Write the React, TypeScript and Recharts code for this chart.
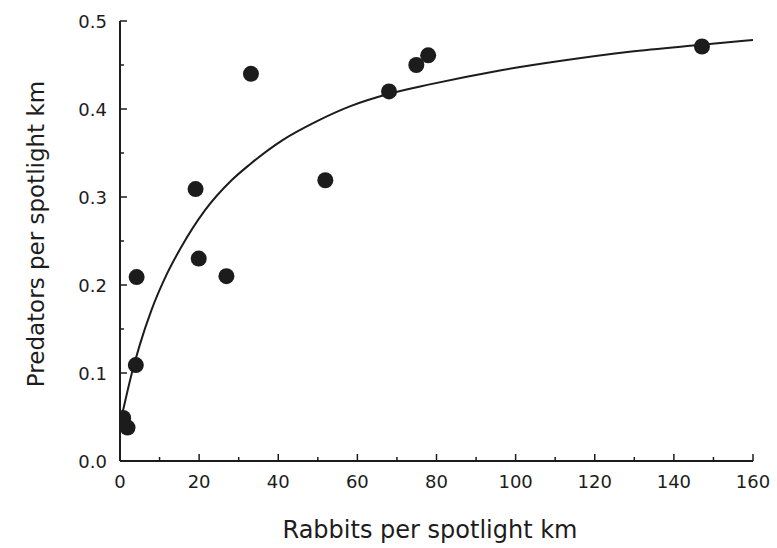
import { ComposedChart, XAxis, YAxis, Scatter, Line, Label } from "recharts";

// observed sites
const rabbits = [0.8, 1.9, 4.2, 4.0, 19.1, 19.9, 26.9, 33.1, 51.9, 68, 74.9, 77.9, 147.1];
const predators = [0.049, 0.038, 0.209, 0.109, 0.309, 0.23, 0.21, 0.44, 0.319, 0.42, 0.45, 0.461, 0.471];

// fitted curve
const fitX = [0.4, 0.8, 3, 5, 8, 11.8, 15.6, 21.5, 28.2, 32.8, 41.2, 49.7, 58.1, 67.8, 78.3, 95, 112, 128.8, 147, 160];
const fitY = [0.05, 0.058, 0.1, 0.132, 0.172, 0.212, 0.244, 0.285, 0.319, 0.337, 0.365, 0.386, 0.403, 0.417, 0.428, 0.443, 0.455, 0.465, 0.473, 0.4785];

const xTicks = [0, 10, 20, 30, 40, 50, 60, 70, 80, 90, 100, 110, 120, 130, 140, 150, 160];
const yTicks = [0, 0.05, 0.1, 0.15, 0.2, 0.25, 0.3, 0.35, 0.4, 0.45, 0.5];

const points = rabbits.map((x, i) => ({ x, y: predators[i] }));
const fit = fitX.map((x, i) => ({ x, y: fitY[i] }));

const INK = "#1c1c1c";
const FONT = "'DejaVu Sans', sans-serif";
const AXIS_X = 120;
const AXIS_Y = 461;

/* eslint-disable @typescript-eslint/no-explicit-any */
function XTick(props: any) {
  const { x, payload } = props;
  const major = payload.value % 20 === 0;
  return (
    <g>
      <line x1={x} x2={x} y1={AXIS_Y} y2={AXIS_Y - (major ? 7 : 4)} stroke={INK} strokeWidth={1.5} />
      {major && (
        <text x={x} y={AXIS_Y + 20} textAnchor="middle" dominantBaseline="central" fontSize={18} fontFamily={FONT} fill={INK}>
          {payload.value}
        </text>
      )}
    </g>
  );
}

function YTick(props: any) {
  const { y, payload } = props;
  const major = Math.round(payload.value * 100) % 10 === 0;
  return (
    <g>
      <line x1={AXIS_X} x2={AXIS_X + (major ? 7 : 4)} y1={y} y2={y} stroke={INK} strokeWidth={1.5} />
      {major && (
        <text x={AXIS_X - 13} y={y} textAnchor="end" dominantBaseline="central" fontSize={18} fontFamily={FONT} fill={INK}>
          {payload.value.toFixed(1)}
        </text>
      )}
    </g>
  );
}

function Dot(props: any) {
  return <circle cx={props.cx} cy={props.cy} r={8} fill={INK} />;
}
/* eslint-enable @typescript-eslint/no-explicit-any */

export default function App() {
  return (
    <div style={{ position: "absolute", left: 0, top: 0, width: 777, height: 548, background: "#fff" }}>
      <ComposedChart width={777} height={548} margin={{ top: 21, right: 24, left: 0, bottom: 0 }}>
        <XAxis
          type="number"
          dataKey="x"
          domain={[0, 160]}
          ticks={xTicks}
          interval={0}
          height={87}
          tickLine={false}
          axisLine={{ stroke: INK, strokeWidth: 2 }}
          tick={<XTick />}
          allowDataOverflow
        >
          <Label
            content={() => (
              <text x={430} y={530} textAnchor="middle" dominantBaseline="central" fontSize={24} fontFamily={FONT} fill={INK}>
                Rabbits per spotlight km
              </text>
            )}
          />
        </XAxis>
        <YAxis
          type="number"
          dataKey="y"
          domain={[0, 0.5]}
          ticks={yTicks}
          interval={0}
          width={120}
          tickLine={false}
          axisLine={{ stroke: INK, strokeWidth: 2 }}
          tick={<YTick />}
          allowDataOverflow
        >
          <Label
            content={() => (
              <text
                x={36}
                y={234}
                transform="rotate(-90 36 234)"
                textAnchor="middle"
                dominantBaseline="central"
                fontSize={23}
                fontFamily={FONT}
                fill={INK}
              >
                Predators per spotlight km
              </text>
            )}
          />
        </YAxis>
        <Line data={fit} dataKey="y" type="monotone" stroke={INK} strokeWidth={2} dot={false} isAnimationActive={false} />
        <Scatter data={points} dataKey="y" shape={<Dot />} isAnimationActive={false} />
      </ComposedChart>
    </div>
  );
}
